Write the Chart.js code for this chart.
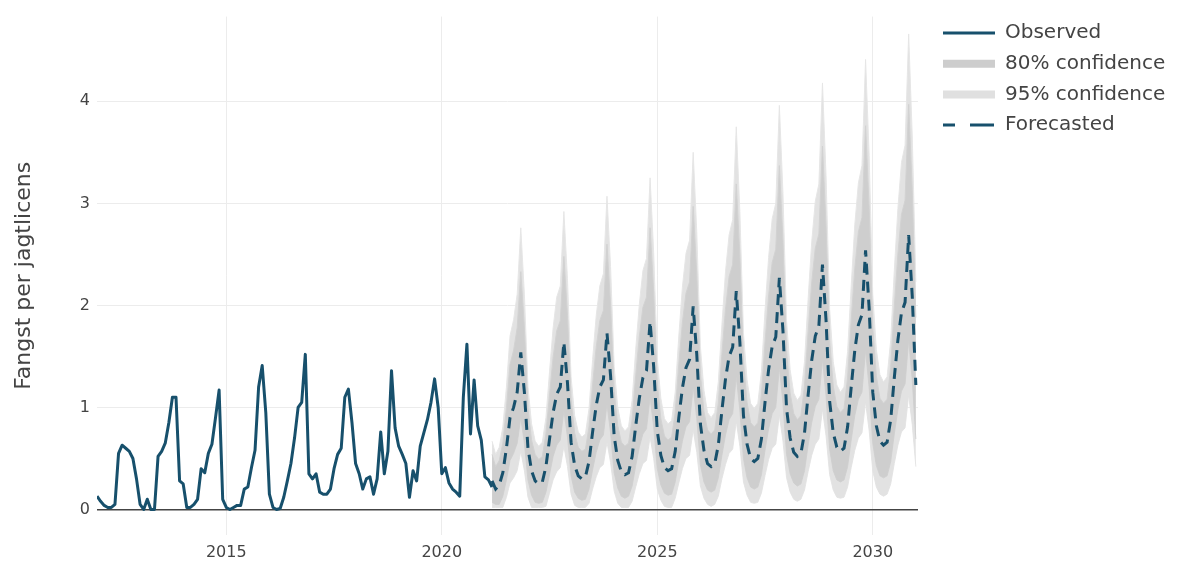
<!DOCTYPE html>
<html>
<head>
<meta charset="utf-8">
<title>Fangst per jagtlicens</title>
<script src="https://cdn.jsdelivr.net/npm/chart.js@4.4.1/dist/chart.umd.min.js"></script>
<style>
  html, body { margin: 0; padding: 0; background: #ffffff; }
  #wrap { width: 1186px; height: 563px; position: relative; }
</style>
</head>
<body>
<div id="wrap"><canvas id="chart" width="1186" height="563"></canvas></div>
<script>
// Monthly series, first observed month is January 2012.
const startYear = 2012;
const monthsPerYear = 12;

// Observed catch per hunting licence, Jan 2012 - Mar 2021
const observed = [
  0.13, 0.08, 0.04, 0.02, 0.02, 0.05, 0.55, 0.63, 0.60, 0.57, 0.50, 0.30,
  0.05, 0.00, 0.10, 0.00, 0.00, 0.52, 0.57, 0.65, 0.85, 1.10, 1.10, 0.28,
  0.25, 0.02, 0.02, 0.05, 0.10, 0.40, 0.36, 0.55, 0.64, 0.90, 1.17, 0.10,
  0.02, 0.00, 0.02, 0.04, 0.04, 0.20, 0.22, 0.41, 0.58, 1.20, 1.41, 0.95,
  0.15, 0.02, 0.00, 0.01, 0.12, 0.28, 0.45, 0.70, 1.00, 1.05, 1.52, 0.35,
  0.30, 0.35, 0.17, 0.15, 0.15, 0.20, 0.40, 0.54, 0.60, 1.10, 1.18, 0.85,
  0.45, 0.35, 0.20, 0.30, 0.32, 0.15, 0.30, 0.76, 0.35, 0.57, 1.36, 0.80,
  0.62, 0.54, 0.45, 0.12, 0.38, 0.28, 0.62, 0.75, 0.88, 1.05, 1.28, 1.00,
  0.35, 0.41, 0.26, 0.20, 0.17, 0.13, 1.10, 1.62, 0.74, 1.27, 0.82, 0.68,
  0.32, 0.29, 0.22
];

// Forecast starts at month index 110 (March 2021) and runs to January 2031
const forecastStart = 110;
const forecast = [
  0.28, 0.20, 0.24, 0.36, 0.60, 0.90, 1.00, 1.15, 1.54, 1.15, 0.60, 0.38, 0.28,
  0.25, 0.27, 0.42, 0.69, 0.95, 1.13, 1.20, 1.64, 1.24, 0.66, 0.43, 0.33,
  0.30, 0.32, 0.47, 0.76, 1.02, 1.20, 1.27, 1.73, 1.31, 0.72, 0.48, 0.37,
  0.34, 0.36, 0.52, 0.82, 1.09, 1.29, 1.36, 1.84, 1.40, 0.77, 0.53, 0.41,
  0.38, 0.40, 0.57, 0.90, 1.19, 1.39, 1.47, 1.99, 1.52, 0.84, 0.58, 0.45,
  0.42, 0.45, 0.63, 0.97, 1.28, 1.50, 1.59, 2.14, 1.64, 0.92, 0.64, 0.50,
  0.47, 0.50, 0.69, 1.05, 1.37, 1.60, 1.69, 2.27, 1.75, 0.99, 0.70, 0.56,
  0.52, 0.55, 0.75, 1.12, 1.46, 1.70, 1.80, 2.40, 1.85, 1.06, 0.75, 0.61,
  0.57, 0.60, 0.81, 1.20, 1.56, 1.81, 1.91, 2.54, 1.97, 1.15, 0.82, 0.67,
  0.63, 0.66, 0.88, 1.29, 1.66, 1.93, 2.03, 2.69, 2.09, 1.22
];

const hi95 = [
  0.67, 0.54, 0.61, 0.81, 1.20, 1.70, 1.86, 2.11, 2.76, 2.11, 1.20, 0.84, 0.67,
  0.62, 0.66, 0.90, 1.35, 1.78, 2.08, 2.19, 2.92, 2.26, 1.30, 0.92, 0.76,
  0.71, 0.74, 0.99, 1.47, 1.90, 2.19, 2.31, 3.07, 2.38, 1.40, 1.00, 0.82,
  0.77, 0.81, 1.07, 1.57, 2.01, 2.34, 2.46, 3.25, 2.52, 1.48, 1.09, 0.89,
  0.84, 0.87, 1.15, 1.70, 2.18, 2.51, 2.64, 3.50, 2.72, 1.60, 1.17, 0.95,
  0.90, 0.95, 1.25, 1.81, 2.33, 2.69, 2.84, 3.75, 2.92, 1.73, 1.27, 1.04,
  0.99, 1.04, 1.35, 1.95, 2.47, 2.85, 3.00, 3.96, 3.10, 1.85, 1.37, 1.14,
  1.07, 1.12, 1.45, 2.06, 2.62, 3.02, 3.19, 4.18, 3.27, 1.96, 1.45, 1.22,
  1.15, 1.20, 1.55, 2.19, 2.79, 3.20, 3.37, 4.41, 3.47, 2.11, 1.57, 1.32,
  1.25, 1.30, 1.66, 2.34, 2.95, 3.40, 3.57, 4.66, 3.66, 2.23
];

const lo95 = [
  0.02, 0.02, 0.02, 0.02, 0.12, 0.26, 0.31, 0.38, 0.57, 0.38, 0.12, 0.02, 0.02,
  0.02, 0.02, 0.03, 0.16, 0.29, 0.37, 0.41, 0.62, 0.42, 0.15, 0.04, 0.02,
  0.02, 0.02, 0.06, 0.20, 0.32, 0.41, 0.44, 0.66, 0.46, 0.18, 0.06, 0.02,
  0.02, 0.02, 0.08, 0.22, 0.35, 0.45, 0.48, 0.71, 0.50, 0.20, 0.09, 0.03,
  0.02, 0.02, 0.11, 0.26, 0.40, 0.50, 0.53, 0.78, 0.56, 0.23, 0.11, 0.05,
  0.03, 0.05, 0.13, 0.30, 0.44, 0.55, 0.59, 0.86, 0.62, 0.27, 0.14, 0.07,
  0.06, 0.07, 0.16, 0.33, 0.49, 0.60, 0.64, 0.92, 0.67, 0.31, 0.17, 0.10,
  0.08, 0.10, 0.19, 0.37, 0.53, 0.64, 0.69, 0.98, 0.72, 0.34, 0.19, 0.12,
  0.11, 0.12, 0.22, 0.41, 0.58, 0.70, 0.75, 1.05, 0.77, 0.38, 0.22, 0.15,
  0.13, 0.15, 0.25, 0.45, 0.63, 0.76, 0.80, 1.12, 0.83, 0.42
];

const hi80 = [
  0.54, 0.42, 0.48, 0.65, 0.99, 1.42, 1.56, 1.78, 2.33, 1.78, 0.99, 0.68, 0.54,
  0.49, 0.52, 0.74, 1.12, 1.49, 1.75, 1.85, 2.48, 1.90, 1.08, 0.75, 0.61,
  0.57, 0.59, 0.81, 1.22, 1.59, 1.85, 1.95, 2.60, 2.00, 1.16, 0.82, 0.66,
  0.62, 0.65, 0.88, 1.31, 1.69, 1.98, 2.08, 2.76, 2.13, 1.24, 0.89, 0.72,
  0.68, 0.71, 0.95, 1.42, 1.83, 2.12, 2.23, 2.97, 2.30, 1.33, 0.96, 0.78,
  0.74, 0.78, 1.04, 1.52, 1.96, 2.28, 2.40, 3.19, 2.48, 1.45, 1.05, 0.85,
  0.81, 0.85, 1.12, 1.63, 2.09, 2.42, 2.55, 3.37, 2.63, 1.55, 1.14, 0.94,
  0.88, 0.92, 1.21, 1.73, 2.22, 2.56, 2.70, 3.56, 2.77, 1.65, 1.21, 1.01,
  0.95, 0.99, 1.29, 1.85, 2.36, 2.72, 2.86, 3.76, 2.95, 1.78, 1.31, 1.09,
  1.04, 1.08, 1.39, 1.98, 2.50, 2.89, 3.03, 3.97, 3.12, 1.88
];

const lo80 = [
  0.07, 0.05, 0.05, 0.13, 0.29, 0.48, 0.55, 0.65, 0.90, 0.65, 0.29, 0.14, 0.07,
  0.06, 0.07, 0.17, 0.34, 0.52, 0.63, 0.68, 0.97, 0.71, 0.33, 0.17, 0.11,
  0.09, 0.10, 0.20, 0.39, 0.56, 0.68, 0.73, 1.03, 0.75, 0.36, 0.21, 0.13,
  0.11, 0.13, 0.23, 0.43, 0.61, 0.74, 0.79, 1.10, 0.81, 0.40, 0.24, 0.16,
  0.14, 0.15, 0.27, 0.48, 0.67, 0.81, 0.86, 1.20, 0.89, 0.44, 0.27, 0.19,
  0.17, 0.19, 0.31, 0.53, 0.73, 0.88, 0.94, 1.30, 0.97, 0.50, 0.31, 0.22,
  0.20, 0.22, 0.34, 0.58, 0.79, 0.94, 1.00, 1.39, 1.04, 0.54, 0.35, 0.26,
  0.23, 0.25, 0.38, 0.63, 0.85, 1.01, 1.08, 1.47, 1.11, 0.59, 0.38, 0.29,
  0.27, 0.29, 0.42, 0.68, 0.92, 1.08, 1.15, 1.56, 1.19, 0.65, 0.43, 0.33,
  0.31, 0.33, 0.47, 0.74, 0.98, 1.16, 1.23, 1.66, 1.27, 0.69
];

const xTicks = [2015, 2020, 2025, 2030];
const yTicks = [0, 1, 2, 3, 4];

const FONT = "'DejaVu Sans', Verdana, sans-serif";
const TEAL = '#17506c';
const TEXT = '#444444';

// month index -> decimal year on the x axis
function toPoints(values, firstIndex) {
  return values.map((v, k) => ({ x: startYear + (firstIndex + k) / monthsPerYear, y: v }));
}

// Legend drawn to the right of the plot area
const sideLegend = {
  id: 'sideLegend',
  afterDraw(chart, args, opts) {
    const ctx = chart.ctx;
    const ds = chart.data.datasets;
    ctx.save();
    opts.items.forEach((item, row) => {
      const d = ds[item.dataset];
      const y = opts.top + row * opts.rowHeight;
      ctx.beginPath();
      ctx.strokeStyle = item.color || d.borderColor;
      ctx.lineWidth = item.width;
      ctx.setLineDash(item.dash || []);
      ctx.moveTo(opts.left, y);
      ctx.lineTo(opts.left + opts.swatch, y);
      ctx.stroke();
      ctx.setLineDash([]);
      ctx.fillStyle = TEXT;
      ctx.font = opts.fontSize + 'px ' + FONT;
      ctx.textBaseline = 'middle';
      ctx.textAlign = 'left';
      ctx.fillText(d.label, opts.left + opts.swatch + opts.gap, y);
    });
    ctx.restore();
  }
};

new Chart(document.getElementById('chart'), {
  type: 'line',
  data: {
    datasets: [
      { label: 'Observed', data: toPoints(observed, 0), borderColor: TEAL, borderWidth: 3,
        pointRadius: 0, fill: false, tension: 0, borderJoinStyle: 'round' },
      { label: 'Forecasted', data: toPoints(forecast, forecastStart), borderColor: TEAL, borderWidth: 3,
        borderDash: [11, 7], pointRadius: 0, fill: false, tension: 0 },
      { label: '80% confidence', data: toPoints(hi80, forecastStart), borderColor: '#d2d2d2',
        backgroundColor: '#cecece', borderWidth: 1, pointRadius: 0, fill: '+1', tension: 0 },
      { label: '', data: toPoints(lo80, forecastStart), borderColor: '#d2d2d2', borderWidth: 1,
        pointRadius: 0, fill: false, tension: 0 },
      { label: '95% confidence', data: toPoints(hi95, forecastStart), borderColor: '#e6e6e6',
        backgroundColor: '#e2e2e2', borderWidth: 1, pointRadius: 0, fill: '+1', tension: 0 },
      { label: '', data: toPoints(lo95, forecastStart), borderColor: '#e6e6e6', borderWidth: 1,
        pointRadius: 0, fill: false, tension: 0 }
    ]
  },
  options: {
    responsive: false,
    animation: false,
    layout: { padding: { left: 0, right: 268, top: 10, bottom: 0 } },
    plugins: {
      legend: { display: false },
      tooltip: { enabled: false },
      sideLegend: {
        left: 943, top: 33, rowHeight: 30.7, swatch: 52, gap: 10, fontSize: 20,
        items: [
          { dataset: 0, width: 3 },
          { dataset: 2, width: 8, color: '#cdcdcd' },
          { dataset: 4, width: 8, color: '#e0e0e0' },
          { dataset: 1, width: 3, dash: [12, 15, 24, 10] }
        ]
      }
    },
    scales: {
      x: {
        type: 'linear', min: 2012, max: 2031.05,
        afterBuildTicks: s => { s.ticks = xTicks.map(v => ({ value: v })); },
        afterFit: s => { s.height = 28; },
        border: { display: false },
        grid: { color: '#ececec', lineWidth: 1, drawTicks: false },
        ticks: { color: TEXT, font: { family: FONT, size: 16 }, padding: 8, maxRotation: 0,
                 callback: v => String(v) }
      },
      y: {
        min: -0.25, max: 4.83,
        afterBuildTicks: s => { s.ticks = yTicks.map(v => ({ value: v })); },
        afterFit: s => { s.width = 97; },
        border: { display: false },
        grid: {
          color: c => (c.tick && c.tick.value === 0) ? '#444444' : '#ececec',
          lineWidth: c => (c.tick && c.tick.value === 0) ? 1.5 : 1,
          drawTicks: false
        },
        ticks: { color: TEXT, font: { family: FONT, size: 16 }, padding: 7, callback: v => String(v) },
        title: { display: true, text: 'Fangst per jagtlicens', color: TEXT,
                 font: { family: FONT, size: 22 }, padding: { top: 11, bottom: 0 } }
      }
    }
  },
  plugins: [sideLegend]
});
</script>
</body>
</html>
